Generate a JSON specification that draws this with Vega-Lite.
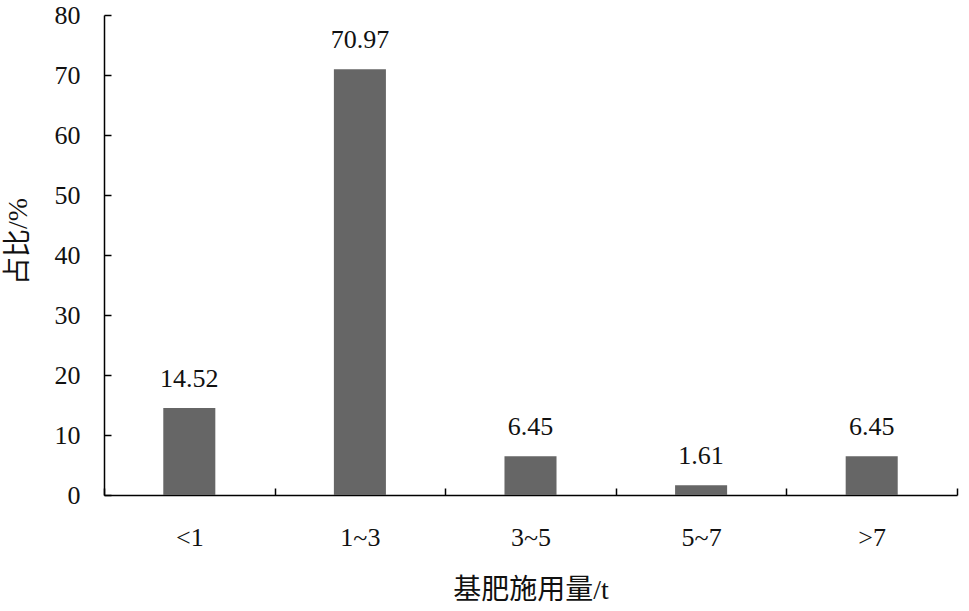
{
  "$schema": "https://vega.github.io/schema/vega-lite/v6.json",
  "width": 853,
  "height": 480,
  "autosize": {"type": "none"},
  "padding": {"left": 104, "top": 15, "right": 12, "bottom": 116},
  "background": "white",
  "config": {
    "view": {"stroke": null},
    "font": "Liberation Serif, Times New Roman, serif",
    "axis": {
      "domainColor": "black",
      "domainWidth": 1.5,
      "tickColor": "black",
      "tickWidth": 1.5,
      "grid": false,
      "labelFont": "Liberation Serif, Times New Roman, serif",
      "titleFont": "Liberation Serif, Noto Sans CJK SC",
      "labelColor": "#111",
      "titleColor": "#111",
      "labelFontSize": 26,
      "titleFontSize": 28,
      "titleFontWeight": "normal"
    }
  },
  "data": {
    "values": [
      {"cat": "<1", "value": 14.52},
      {"cat": "1~3", "value": 70.97},
      {"cat": "3~5", "value": 6.45},
      {"cat": "5~7", "value": 1.61},
      {"cat": ">7", "value": 6.45}
    ]
  },
  "encoding": {
    "x": {
      "field": "cat",
      "type": "nominal",
      "sort": null,
      "scale": {"paddingInner": 0, "paddingOuter": 0},
      "axis": {
        "title": "基肥施用量/t",
        "labelAngle": 0,
        "tickBand": "extent",
        "tickSize": -7,
        "labelPadding": 36,
        "titlePadding": 26,
        "labelBaseline": "top"
      }
    },
    "y": {
      "field": "value",
      "type": "quantitative",
      "scale": {"domain": [0, 80]},
      "axis": {
        "title": "占比/%",
        "values": [0, 10, 20, 30, 40, 50, 60, 70, 80],
        "tickSize": -7,
        "labelPadding": 31,
        "titlePadding": 22,
        "titleY": 226
      }
    }
  },
  "layer": [
    {"mark": {"type": "bar", "color": "#666666", "width": {"band": 0.305}}},
    {
      "mark": {"type": "text", "fontSize": 26, "baseline": "alphabetic", "dy": -21, "color": "#111", "font": "Liberation Serif, Times New Roman, serif"},
      "encoding": {"text": {"field": "value", "type": "quantitative", "format": ".2f"}}
    }
  ]
}
